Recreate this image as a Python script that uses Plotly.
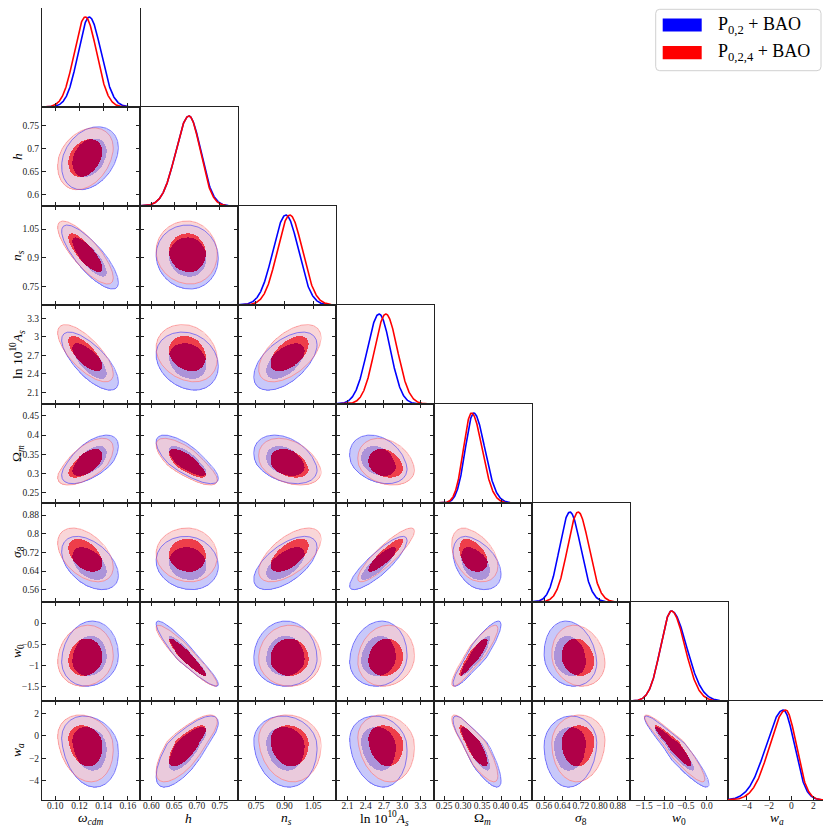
import numpy as np
import plotly.graph_objects as go

# figure geometry (page pixels); the page body adds an 8 px margin
PAGE_OFFSET = 8
FIG_W, FIG_H = 823, 823
GRID_L, GRID_R = 42.0, 825.7
GRID_T, GRID_B = 8.0, 800.0

# parameter names, plot ranges and ticks
labels = ["<i>ω<sub>cdm</sub></i>", "<i>h</i>", "<i>n<sub>s</sub></i>",
          "ln 10<sup>10</sup><i>A<sub>s</sub></i>", "Ω<sub><i>m</i></sub>",
          "<i>σ</i><sub>8</sub>", "<i>w</i><sub>0</sub>", "<i>w<sub>a</sub></i>"]
ranges = [[0.089, 0.170], [0.575, 0.790], [0.655, 1.170], [1.91, 3.52],
          [0.223, 0.481], [0.507, 0.932], [-1.84, 0.50], [-5.72, 3.10]]
ticks = [[0.10, 0.12, 0.14, 0.16], [0.60, 0.65, 0.70, 0.75], [0.75, 0.90, 1.05],
         [2.1, 2.4, 2.7, 3.0, 3.3], [0.25, 0.30, 0.35, 0.40, 0.45],
         [0.56, 0.64, 0.72, 0.80, 0.88], [-1.5, -1.0, -0.5, 0.0], [-4, -2, 0, 2]]
xticklabels = [["0.10", "0.12", "0.14", "0.16"], ["0.60", "0.65", "0.70", "0.75"],
               ["0.75", "0.90", "1.05"], ["2.1", "2.4", "2.7", "3.0", "3.3"],
               ["0.25", "0.30", "0.35", "0.40", "0.45"],
               ["0.56", "0.64", "0.72", "0.80", "0.88"],
               ["−1.5", "−1.0", "−0.5", "0.0"], ["−4", "−2", "0", "2"]]
yticklabels = [["0.10", "0.12", "0.14", "0.16"], ["0.6", "0.65", "0.7", "0.75"],
               ["0.75", "0.9", "1.05"], ["2.1", "2.4", "2.7", "3", "3.3"],
               ["0.25", "0.3", "0.35", "0.4", "0.45"],
               ["0.56", "0.64", "0.72", "0.8", "0.88"],
               ["−1.5", "−1", "−0.5", "0"], ["−4", "−2", "0", "2"]]

# posterior summaries: peak, lower width, upper width
blue_peak = [0.1281, 0.6825, 0.907, 2.62, 0.328, 0.672, -0.844, -0.72]
blue_lo = [0.0092, 0.029, 0.068, 0.195, 0.022, 0.045, 0.26, 1.55]
blue_hi = [0.0097, 0.026, 0.066, 0.185, 0.029, 0.047, 0.36, 1.00]
red_peak = [0.1248, 0.6825, 0.928, 2.73, 0.322, 0.708, -0.844, -0.50]
red_lo = [0.0092, 0.029, 0.066, 0.185, 0.021, 0.046, 0.26, 1.45]
red_hi = [0.0093, 0.025, 0.066, 0.190, 0.028, 0.047, 0.32, 0.95]

# correlations, lower triangle (row param vs column param)
blue_corr = [[],
             [0.30],
             [-0.80, -0.05],
             [-0.72, -0.20, 0.55],
             [0.60, -0.75, -0.35, -0.30],
             [-0.45, -0.10, 0.60, 0.85, -0.40],
             [0.10, -0.93, 0.00, 0.10, 0.90, -0.15],
             [-0.20, 0.75, -0.10, -0.15, -0.85, 0.05, -0.93]]
red_corr = [[],
            [0.30],
            [-0.80, -0.05],
            [-0.72, -0.20, 0.55],
            [0.62, -0.75, -0.35, -0.25],
            [-0.45, -0.05, 0.60, 0.88, -0.40],
            [0.10, -0.93, 0.00, 0.10, 0.90, -0.15],
            [-0.20, 0.75, -0.10, -0.15, -0.85, 0.05, -0.93]]

legend_names = ["P<sub>0,2</sub> + BAO", "P<sub>0,2,4</sub> + BAO"]

CHI2_68, CHI2_95 = 2.30, 6.18
NGRID = 200
N = len(labels)

# colours for each (blue level, red level) combination; level 0 none, 1 = 95%, 2 = 68%
region_colors = {
    1: "rgb(200,200,250)",   # blue outer only
    2: "rgb(150,140,235)",   # blue inner only
    3: "rgb(249,214,216)",   # red outer only
    4: "rgb(234,202,220)",   # both outer
    5: "rgb(172,147,217)",   # blue inner in red outer
    6: "rgb(242,80,88)",     # red inner only
    7: "rgb(238,62,74)",     # red inner in blue outer
    8: "rgb(176,0,72)",      # both inner
}
CODE = np.array([[np.nan, 3, 6], [1, 4, 7], [2, 5, 8]])
colorscale = []
for k in range(1, 9):
    colorscale.append([(k - 1) / 8, region_colors[k]])
    colorscale.append([k / 8, region_colors[k]])


def standardise(x, m, lo, hi):
    d = x - m
    return np.where(d < 0, d / lo, d / hi)


def level_map(X, Y, i, j, peak, lo, hi, corr):
    u = standardise(X, peak[j], lo[j], hi[j])
    v = standardise(Y, peak[i], lo[i], hi[i])
    r = corr[i][j]
    chi2 = (u * u - 2 * r * u * v + v * v) / (1 - r * r)
    return np.where(chi2 < CHI2_68, 2, np.where(chi2 < CHI2_95, 1, 0))


def outline(i, j, peak, lo, hi, corr, c2):
    t = np.linspace(0, 2 * np.pi, 240)
    r = corr[i][j]
    rad = np.sqrt(c2)
    u = rad * np.cos(t)
    v = rad * (r * np.cos(t) + np.sqrt(1 - r * r) * np.sin(t))
    x = peak[j] + np.where(u < 0, u * lo[j], u * hi[j])
    y = peak[i] + np.where(v < 0, v * lo[i], v * hi[i])
    return x, y


def px_x(p):
    return min(max((p - PAGE_OFFSET) / FIG_W, 0.0), 1.0)


def px_y(p):
    return min(max(1 - (p - PAGE_OFFSET) / FIG_H, 0.0), 1.0)


cw = (GRID_R - GRID_L) / N
ch = (GRID_B - GRID_T) / N
tick_font = dict(family="Liberation Serif", size=9.5, color="#222")
title_font = dict(family="Liberation Serif", size=13.5, color="black")

fig = go.Figure()
layout = {}
annotations = []
k = 0
for i in range(N):
    for j in range(i + 1):
        k += 1
        xa = "xaxis" if k == 1 else f"xaxis{k}"
        ya = "yaxis" if k == 1 else f"yaxis{k}"
        xr = "x" if k == 1 else f"x{k}"
        yr = "y" if k == 1 else f"y{k}"
        x0 = GRID_L + j * cw
        y0 = GRID_T + i * ch
        xdom = [px_x(x0), px_x(x0 + cw)]
        ydom = [px_y(y0 + ch), px_y(y0)]
        diag = i == j
        layout[xa] = dict(
            domain=xdom, anchor=yr, range=ranges[j], tickvals=ticks[j],
            ticktext=xticklabels[j], showticklabels=(i == N - 1), tickangle=0,
            ticks="inside", ticklen=4, tickwidth=1, tickcolor="#222",
            showline=True, linecolor="#222", linewidth=1,
            mirror=True if diag else "ticks", showgrid=False, zeroline=False,
            tickfont=tick_font, automargin=False, ticklabelstandoff=-3,
        )
        if i == N - 1:
            annotations.append(dict(
                text=labels[j], xref="paper", yref="paper",
                x=px_x(x0 + cw / 2), y=px_y(818), xanchor="center", yanchor="middle",
                showarrow=False, font=title_font))
        if diag:
            layout[ya] = dict(
                domain=ydom, anchor=xr, range=[0, 1.1], showticklabels=False,
                ticks="", showline=True, linecolor="#222", linewidth=1,
                mirror=True, showgrid=False, zeroline=False, automargin=False,
            )
            xs = np.linspace(ranges[j][0], ranges[j][1], 400)
            for peak, lo, hi, col in [(blue_peak, blue_lo, blue_hi, "#0000ff"),
                                      (red_peak, red_lo, red_hi, "#ff0000")]:
                u = standardise(xs, peak[j], lo[j], hi[j])
                fig.add_trace(go.Scatter(
                    x=xs, y=np.exp(-0.5 * u * u), mode="lines",
                    line=dict(color=col, width=1.6), xaxis=xr, yaxis=yr,
                    showlegend=False, hoverinfo="skip"))
            continue
        layout[ya] = dict(
            domain=ydom, anchor=xr, range=ranges[i], tickvals=ticks[i],
            ticktext=yticklabels[i], showticklabels=(j == 0),
            ticks="inside", ticklen=4, tickwidth=1, tickcolor="#222",
            showline=True, linecolor="#222", linewidth=1, mirror="ticks",
            showgrid=False, zeroline=False, tickfont=tick_font, automargin=False,
        )
        if j == 0:
            annotations.append(dict(
                text=labels[i], xref="paper", yref="paper", textangle=-90,
                x=px_x(17.5), y=px_y(y0 + ch / 2), xanchor="center", yanchor="middle",
                showarrow=False, font=title_font))

        gx = np.linspace(ranges[j][0], ranges[j][1], NGRID)
        gy = np.linspace(ranges[i][0], ranges[i][1], NGRID)
        X, Y = np.meshgrid(gx, gy)
        bl = level_map(X, Y, i, j, blue_peak, blue_lo, blue_hi, blue_corr)
        rl = level_map(X, Y, i, j, red_peak, red_lo, red_hi, red_corr)
        z = CODE[bl, rl]
        fig.add_trace(go.Heatmap(
            x=gx, y=gy, z=z, colorscale=colorscale, zmin=0.5, zmax=8.5,
            showscale=False, hoverinfo="skip", xaxis=xr, yaxis=yr, zsmooth=False))
        for peak, lo, hi, corr, col in [
                (blue_peak, blue_lo, blue_hi, blue_corr, "rgba(40,40,255,0.6)"),
                (red_peak, red_lo, red_hi, red_corr, "rgba(255,70,70,0.45)")]:
            ox, oy = outline(i, j, peak, lo, hi, corr, CHI2_95)
            fig.add_trace(go.Scatter(
                x=ox, y=oy, mode="lines", line=dict(color=col, width=0.9),
                xaxis=xr, yaxis=yr, showlegend=False, hoverinfo="skip"))

# legend box drawn by hand to get the wide colour patches
bx0, bx1, by0, by1, rad = 655.7, 821.0, 9.3, 70.7, 4.0
path = (f"M {px_x(bx0 + rad)},{px_y(by0)} L {px_x(bx1 - rad)},{px_y(by0)} "
        f"Q {px_x(bx1)},{px_y(by0)} {px_x(bx1)},{px_y(by0 + rad)} "
        f"L {px_x(bx1)},{px_y(by1 - rad)} Q {px_x(bx1)},{px_y(by1)} {px_x(bx1 - rad)},{px_y(by1)} "
        f"L {px_x(bx0 + rad)},{px_y(by1)} Q {px_x(bx0)},{px_y(by1)} {px_x(bx0)},{px_y(by1 - rad)} "
        f"L {px_x(bx0)},{px_y(by0 + rad)} Q {px_x(bx0)},{px_y(by0)} {px_x(bx0 + rad)},{px_y(by0)} Z")
shapes = [dict(type="path", path=path, xref="paper", yref="paper",
               line=dict(color="#d0d0d0", width=1), fillcolor="white")]
for name, col, yc in zip(legend_names, ["#0000ff", "#ff0000"], [25.0, 52.6]):
    shapes.append(dict(type="rect", xref="paper", yref="paper",
                       x0=px_x(662.7), x1=px_x(701.7), y0=px_y(yc + 6.6), y1=px_y(yc - 6.6),
                       fillcolor=col, line=dict(width=0)))
    annotations.append(dict(text=name, xref="paper", yref="paper", x=px_x(716.0), y=px_y(yc),
                            xanchor="left", yanchor="middle", showarrow=False,
                            font=dict(family="Liberation Serif", size=18, color="black")))

fig.update_layout(
    width=FIG_W, height=FIG_H, margin=dict(l=0, r=0, t=0, b=0),
    paper_bgcolor="white", plot_bgcolor="white", showlegend=False,
    shapes=shapes, annotations=annotations, **layout,
)
fig.write_html("out.html")
